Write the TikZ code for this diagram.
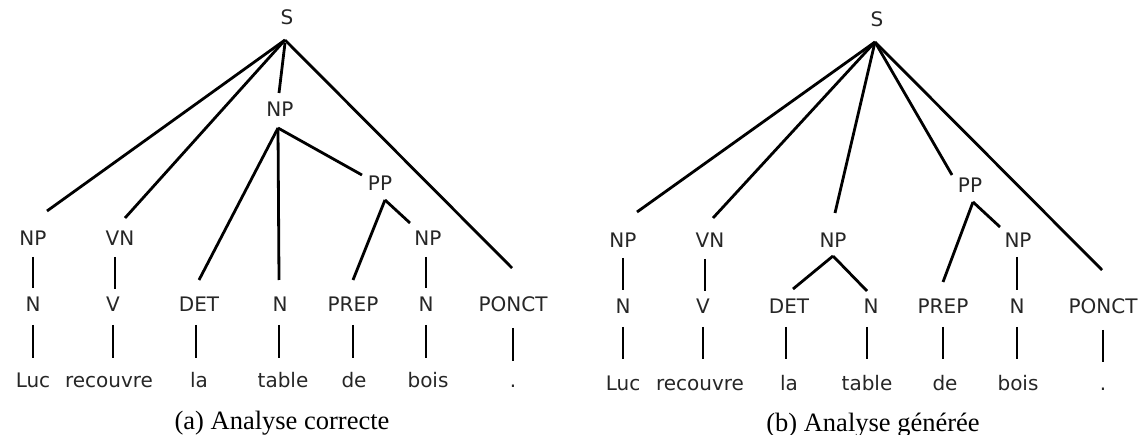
\documentclass[tikz,border=0pt]{standalone}
\usepackage{fontspec}
\newfontfamily\lblfont{DejaVu Sans}
\newfontfamily\capfont{Liberation Serif}
\begin{document}
\begin{tikzpicture}[x=1pt,y=-1pt,
  lbl/.style={anchor=base,inner sep=0pt,text=black!85,font=\lblfont\fontsize{20}{23}\selectfont},
  capt/.style={anchor=base,inner sep=0pt,font=\capfont\fontsize{26.5}{30}\selectfont},
  br/.style={line width=2.8pt}]
\useasboundingbox (0,0) rectangle (1148,435);
% ===== Left tree =====
\node[lbl] (aS) at (287,25) {S};
\node[lbl] (aNP1) at (33,246) {NP};
\node[lbl] (aVN) at (120,246) {VN};
\node[lbl] (aNPm) at (280,117) {NP};
\node[lbl] (aPP) at (380,191) {PP};
\node[lbl] (aNPb) at (428,246) {NP};
\node[lbl] (aN1) at (33,312) {N};
\node[lbl] (aV) at (113,312) {V};
\node[lbl] (aDET) at (199,312) {DET};
\node[lbl] (aN2) at (280,312) {N};
\node[lbl] (aPREP) at (353,312) {PREP};
\node[lbl] (aN3) at (426,312) {N};
\node[lbl] (aPONCT) at (513,312) {PONCT};
\node[lbl] (aw1) at (33,388) {Luc};
\node[lbl] (aw2) at (109,388) {recouvre};
\node[lbl] (aw3) at (199,388) {la};
\node[lbl] (aw4) at (283,388) {table};
\node[lbl] (aw5) at (354,388) {de};
\node[lbl] (aw6) at (428,388) {bois};
\node[lbl] (aw7) at (513,388) {.};
\node[capt] (acap) at (282,429) {(a) Analyse correcte};
% connector ends
\coordinate (aSb) at (285,40);
\coordinate (aNPmb) at (278,128);
\coordinate (aPPb) at (385,200);
\draw[br] (aSb) -- (47,211) coordinate (aNP1t);
\draw[br] (aSb) -- (125,218) coordinate (aVNt);
\draw[br] (285,43) -- (279,93) coordinate (aNPmt);
\draw[br] (aSb) -- (512,268) coordinate (aPONCTt);
\draw[br] (aNPmb) -- (199,280) coordinate (aDETt);
\draw[br] (aNPmb) -- (279,280) coordinate (aN2t);
\draw[br] (aNPmb) -- (362,175) coordinate (aPPt);
\draw[br] (aPPb) -- (353,280) coordinate (aPREPt);
\draw[br] (aPPb) -- (410,223) coordinate (aNPbt);
\draw[br] (33,257) coordinate (aNP1b) -- (33,288) coordinate (aN1t);
\draw[br] (115,257) coordinate (aVNb) -- (115,289) coordinate (aVt);
\draw[br] (426,257) coordinate (aNPbb) -- (426,288) coordinate (aN3t);
\foreach \x/\n in {33/1,113/2,196/3,279/4,353/5,426/6}{
  \draw[br] (\x,325) coordinate (aup\n) -- (\x,358) coordinate (adn\n);
}
\draw[br] (513,328) coordinate (aup7) -- (513,361) coordinate (adn7);
% ===== Right tree =====
\node[lbl] (bS) at (877,27) {S};
\node[lbl] (bNP1) at (623,248) {NP};
\node[lbl] (bVN) at (710,248) {VN};
\node[lbl] (bNPm) at (833,248) {NP};
\node[lbl] (bPP) at (970,193) {PP};
\node[lbl] (bNPb) at (1018,248) {NP};
\node[lbl] (bN1) at (623,314) {N};
\node[lbl] (bV) at (703,314) {V};
\node[lbl] (bDET) at (789,314) {DET};
\node[lbl] (bN2) at (871,314) {N};
\node[lbl] (bPREP) at (943,314) {PREP};
\node[lbl] (bN3) at (1017,314) {N};
\node[lbl] (bPONCT) at (1103,314) {PONCT};
\node[lbl] (bw1) at (623,390) {Luc};
\node[lbl] (bw2) at (700,390) {recouvre};
\node[lbl] (bw3) at (789,390) {la};
\node[lbl] (bw4) at (867,390) {table};
\node[lbl] (bw5) at (945,390) {de};
\node[lbl] (bw6) at (1018,390) {bois};
\node[lbl] (bw7) at (1103,390) {.};
\node[capt] (bcap) at (873,431) {(b) Analyse générée};
\coordinate (bSb) at (875,42);
\coordinate (bNPmb) at (833,256);
\coordinate (bPPb) at (973,202);
\draw[br] (bSb) -- (637,212) coordinate (bNP1t);
\draw[br] (bSb) -- (713,218) coordinate (bVNt);
\draw[br] (bSb) -- (835,213) coordinate (bNPmt);
\draw[br] (bSb) -- (952,175) coordinate (bPPt);
\draw[br] (bSb) -- (1102,270) coordinate (bPONCTt);
\draw[br] (bPPb) -- (943,282) coordinate (bPREPt);
\draw[br] (bPPb) -- (1000,227) coordinate (bNPbt);
\draw[br] (bNPmb) -- (793,289) coordinate (bDETt);
\draw[br] (bNPmb) -- (867,291) coordinate (bN2t);
\draw[br] (623,258) coordinate (bNP1b) -- (623,290) coordinate (bN1t);
\draw[br] (705,259) coordinate (bVNb) -- (705,291) coordinate (bVt);
\draw[br] (1017,257) coordinate (bNPbb) -- (1017,290) coordinate (bN3t);
\foreach \x/\n in {623/1,703/2,786/3,867/4,943/5,1017/6}{
  \draw[br] (\x,327) coordinate (bup\n) -- (\x,359) coordinate (bdn\n);
}
\draw[br] (1103,330) coordinate (bup7) -- (1103,362) coordinate (bdn7);
\end{tikzpicture}
\end{document}
